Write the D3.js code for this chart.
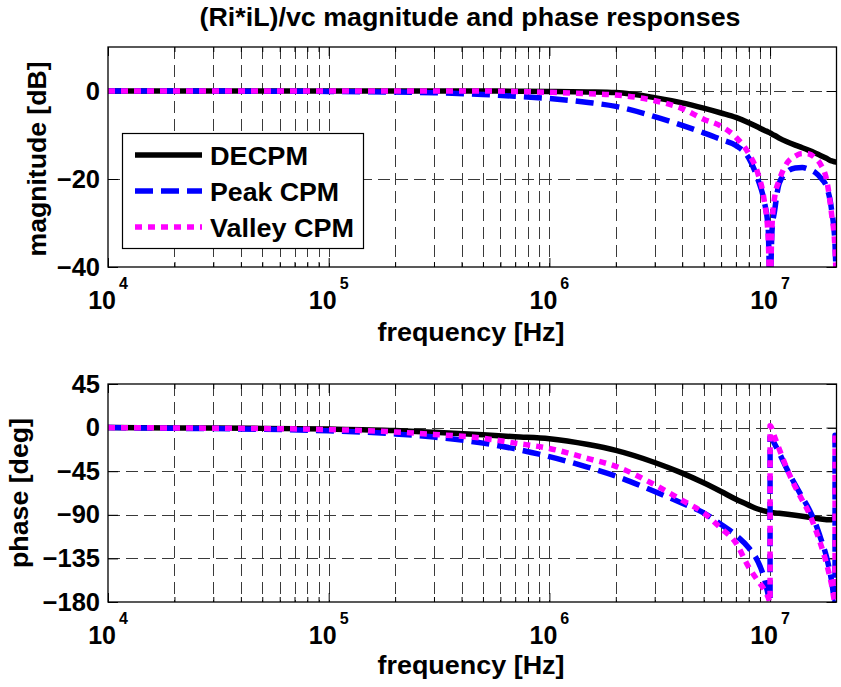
<!DOCTYPE html>
<html><head><meta charset="utf-8">
<script src="https://cdn.jsdelivr.net/npm/d3@7"></script>
<style>
body{margin:0;background:#fff}
text{font-family:"Liberation Sans",Arial,Helvetica,sans-serif;font-weight:bold;fill:#000}
</style>
</head><body>
<svg id="c" width="841" height="687"></svg>
<script>
// ---------- DATA ----------
const title = "(Ri*iL)/vc magnitude and phase responses";
const seriesNames = ["DECPM", "Peak CPM", "Valley CPM"];

const magFreq = [1e4,2e4,5e4,1e5,2e5,3e5,5e5,7e5,1e6,1.5e6,2e6,3e6,4e6,5e6,6e6,7e6,8e6,8.8e6,9.4e6,9.8e6,1e7,1.02e7,1.05e7,1.1e7,1.2e7,1.3e7,1.4e7,1.5e7,1.6e7,1.7e7,1.8e7,1.9e7,1.97e7,2e7];
const magDECPM  = [0,0,0,0,0,0,0,-0.05,-0.1,-0.2,-0.35,-1.5,-2.7,-3.9,-5.0,-6.0,-7.2,-8.2,-8.9,-9.3,-9.5,-9.8,-10.1,-10.7,-11.6,-12.3,-12.9,-13.5,-14.1,-14.7,-15.3,-15.9,-16.1,-16.2];
const magPeak   = [0,0,-0.05,-0.1,-0.25,-0.4,-0.8,-1.2,-1.7,-2.6,-3.5,-5.8,-7.8,-9.5,-11.0,-12.4,-15.2,-20,-25,-31,-45,-32,-27,-21,-18.3,-17.5,-17.4,-17.8,-18.5,-19.8,-21.7,-27,-35,-45];
const magValley = [0,0,0,0,0,0,0,-0.1,-0.3,-0.6,-0.9,-2.2,-4.0,-6.4,-8.0,-10.5,-14.2,-18.7,-24.8,-33,-45,-31,-24,-20.3,-16.2,-14.8,-14.2,-14.3,-15.2,-16.8,-20,-28,-36,-45];

const phFreq = [1e4,2e4,5e4,1e5,2e5,3e5,5e5,7e5,1e6,1.5e6,2e6,3e6,4e6,5e6,6e6,7e6,8e6,8.8e6,9.4e6,9.8e6,1e7,1.0001e7,1.05e7,1.1e7,1.2e7,1.3e7,1.4e7,1.5e7,1.6e7,1.7e7,1.8e7,1.9e7,1.97e7,1.9701e7,2e7];
const phDECPM  = [0,-0.3,-0.8,-1.5,-3,-4.8,-7.5,-9.5,-11.5,-17.5,-23.5,-36,-47,-57,-66,-74,-80,-84,-86,-87,-87.5,-87.5,-88,-88.5,-89.5,-90.5,-91.5,-92.5,-93.5,-94.3,-95,-95,-93.5,-93.5,-90];
const phPeak   = [0,-0.7,-1.7,-3.3,-6.5,-9.8,-16,-22,-30,-41,-50,-66,-78,-88,-100,-111,-124,-138,-155,-172,-180,-10,-17,-26,-44,-59,-72,-84,-98,-115,-133,-158,-180,-8,-9];
const phValley = [0,-0.4,-1,-2,-4.5,-7,-11,-16,-21.5,-32,-40,-59,-75,-88,-104,-119,-144,-158,-167,-175,-180,2,-10,-22,-44,-61,-75,-88,-104,-121,-140,-162,-180,-8,-9];

const magTicks = [-40,-20,0];
const phTicks = [-180,-135,-90,-45,0,45];
const xMajor = [1e4,1e5,1e6,1e7];
const xMinor = [2e4,3e4,4e4,5e4,6e4,7e4,8e4,9e4,2e5,3e5,4e5,5e5,6e5,7e5,8e5,9e5,2e6,3e6,4e6,5e6,6e6,7e6,8e6,9e6];

// ---------- STYLES ----------
const styles = [
  {color:"#000000", dash:null},
  {color:"#0000ff", dash:"18,8"},
  {color:"#ff00ff", dash:"7,6"}
];
const FONT = '"Liberation Sans",Arial,Helvetica,sans-serif';

const svg = d3.select("#c");
svg.append("rect").attr("width",841).attr("height",687).attr("fill","#fff");

const X0 = 108, X1 = 836.5;
const x = d3.scaleLog().domain([1e4,2e7]).range([X0,X1]);

svg.append("text").attr("x",470).attr("y",26).attr("text-anchor","middle")
  .style("font-size","25px").attr("textLength",541).attr("lengthAdjust","spacingAndGlyphs").text(title);

function panel(cfg){
  const y = d3.scaleLinear().domain(cfg.domain).range([cfg.y1, cfg.y0]);
  const g = svg.append("g");
  const clipId = "clip"+cfg.id;
  svg.append("clipPath").attr("id",clipId).append("rect")
    .attr("x",X0).attr("y",cfg.y0).attr("width",X1-X0).attr("height",cfg.y1-cfg.y0);

  // grid
  const grid = g.append("g").attr("stroke","#3a3a3a").attr("stroke-width",1).attr("stroke-dasharray","12,6");
  grid.selectAll("line.v").data(xMajor.slice(1).concat(xMinor)).enter().append("line")
    .attr("x1",d=>Math.round(x(d))+0.5).attr("x2",d=>Math.round(x(d))+0.5)
    .attr("y1",cfg.y0).attr("y2",cfg.y1);
  grid.selectAll("line.h").data(cfg.grid).enter().append("line")
    .attr("x1",X0).attr("x2",X1).attr("y1",d=>Math.round(y(d))+0.5).attr("y2",d=>Math.round(y(d))+0.5);

  // axes (ticks inside)
  const cleanup = s => { s.select(".domain").remove(); s.selectAll("line").attr("stroke","#000"); };
  g.append("g").attr("transform",`translate(0,${cfg.y1})`)
    .call(d3.axisBottom(x).tickValues(xMajor).tickSize(-9).tickFormat("")).call(cleanup);
  g.append("g").attr("transform",`translate(0,${cfg.y1})`)
    .call(d3.axisBottom(x).tickValues(xMinor).tickSize(-5).tickFormat("")).call(cleanup);
  g.append("g").attr("transform",`translate(0,${cfg.y0})`)
    .call(d3.axisTop(x).tickValues(xMajor).tickSize(-9).tickFormat("")).call(cleanup);
  g.append("g").attr("transform",`translate(0,${cfg.y0})`)
    .call(d3.axisTop(x).tickValues(xMinor).tickSize(-5).tickFormat("")).call(cleanup);
  const yl = g.append("g").attr("transform",`translate(${X0},0)`)
    .call(d3.axisLeft(y).tickValues(cfg.ticks).tickSizeInner(-10).tickSizeOuter(0).tickPadding(8)).call(cleanup);
  yl.attr("font-size",null).attr("font-family",null);
  yl.selectAll("text").style("font-size","25.5px").style("font-family",FONT).style("font-weight","bold").attr("fill","#000");
  g.append("g").attr("transform",`translate(${X1},0)`)
    .call(d3.axisRight(y).tickValues(cfg.ticks).tickSizeInner(-10).tickSizeOuter(0).tickFormat("")).call(cleanup);

  // x tick labels 10^n
  const xl = g.append("g");
  xMajor.forEach(v=>{
    const t = xl.append("text").attr("x",x(v)).attr("y",cfg.tickY).attr("text-anchor","middle");
    t.append("tspan").style("font-size","25px").text("10");
    t.append("tspan").style("font-size","16px").attr("dx",3).attr("dy",-20).text(String(Math.round(Math.log10(v))));
  });

  // labels
  g.append("text").attr("x",471).attr("y",cfg.xlabelY).attr("text-anchor","middle")
    .style("font-size","26px").attr("textLength",187).attr("lengthAdjust","spacingAndGlyphs").text("frequency [Hz]");
  g.append("text").attr("transform",`translate(${cfg.ylabelX},${cfg.ylabelY}) rotate(-90)`).attr("text-anchor","middle")
    .style("font-size","26px").attr("textLength",cfg.ylabelLen).attr("lengthAdjust","spacingAndGlyphs").text(cfg.ylabel);

  // lines
  const line = d3.line().x(d=>x(d[0])).y(d=>y(d[1])).curve(d3.curveMonotoneX);
  const lg = g.append("g").attr("clip-path",`url(#${clipId})`);
  cfg.series.forEach((vals,i)=>{
    const pts = cfg.freq.map((f,j)=>[f,vals[j]]);
    lg.append("path").attr("d",line(pts)).attr("fill","none")
      .attr("stroke",styles[i].color).attr("stroke-width",5.5)
      .attr("stroke-dasharray",styles[i].dash).attr("stroke-linejoin","round");
  });

  // frame
  g.append("rect").attr("x",X0).attr("y",cfg.y0).attr("width",X1-X0).attr("height",cfg.y1-cfg.y0)
    .attr("fill","none").attr("stroke","#000").attr("stroke-width",1.3);
  return {g,y};
}

const magPanel = panel({id:"m", y0:47, y1:267, domain:[-40,10], ticks:magTicks, grid:[-20,0],
  tickY:309, xlabelY:341, ylabel:"magnitude [dB]", ylabelX:46, ylabelY:159, ylabelLen:195,
  freq:magFreq, series:[magDECPM,magPeak,magValley]});
const phPanel = panel({id:"p", y0:384, y1:602, domain:[-180,45], ticks:phTicks, grid:[-135,-90,-45,0],
  tickY:644, xlabelY:674, ylabel:"phase [deg]", ylabelX:27.5, ylabelY:493, ylabelLen:150,
  freq:phFreq, series:[phDECPM,phPeak,phValley]});

// legend
const leg = svg.append("g");
leg.append("rect").attr("x",122.5).attr("y",133.5).attr("width",241).attr("height",115)
  .attr("fill","#fff").attr("stroke","#000").attr("stroke-width",1.2);
const legRows = [155,191,227];
const legLens = [98,129,144];
seriesNames.forEach((n,i)=>{
  leg.append("line").attr("x1",135).attr("x2",202).attr("y1",legRows[i]).attr("y2",legRows[i])
    .attr("stroke",styles[i].color).attr("stroke-width",5.5).attr("stroke-dasharray",styles[i].dash);
  leg.append("text").attr("x",210).attr("y",legRows[i]+9.5).style("font-size","26px")
    .attr("textLength",legLens[i]).attr("lengthAdjust","spacingAndGlyphs").text(n);
});
</script>
</body></html>
